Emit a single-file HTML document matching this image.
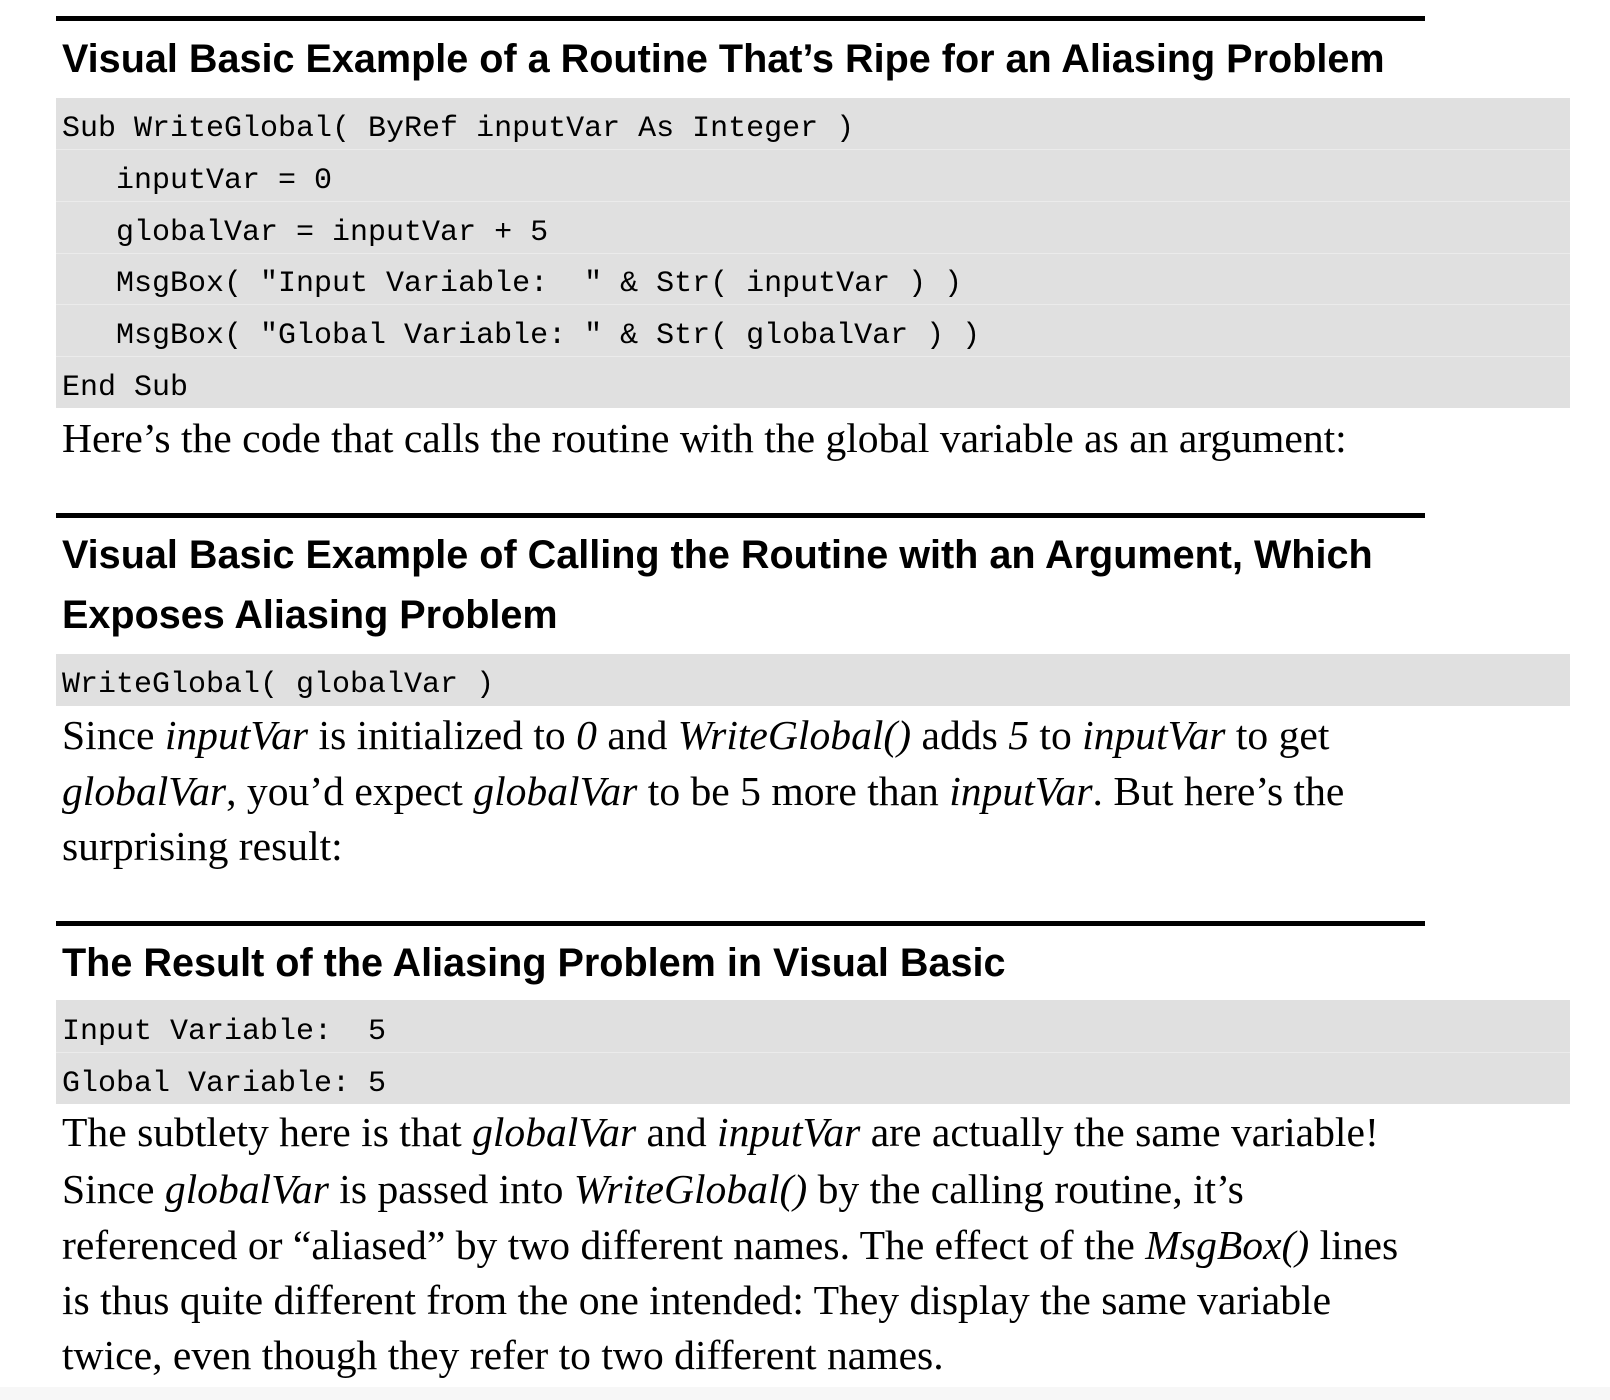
<!DOCTYPE html>
<html><head><meta charset="utf-8"><style>
body{margin:0;width:1610px;height:1400px;background:#fff;position:relative;overflow:hidden}
.r{position:absolute;left:56px;width:1369px;height:5px;background:#000}
.h{position:absolute;left:62px;font:bold 39.6px/60px "Liberation Sans",sans-serif;color:#000;white-space:nowrap}
.g{position:absolute;left:56px;width:1514px;background:#e0e0e0}
.c{position:absolute;left:62px;font:30px/52px "Liberation Mono",monospace;color:#000;white-space:pre}
.sep{position:absolute;left:56px;width:1514px;height:1px;background:#ebebeb}
.p{position:absolute;left:62px;font:41.6px/56px "Liberation Serif",serif;color:#000;white-space:nowrap}
i{font-style:italic}
</style></head><body>
<div class="r" style="top:16px"></div>
<div class="h" style="top:29px">Visual Basic Example of a Routine That’s Ripe for an Aliasing Problem</div>
<div class="g" style="top:98px;height:310px"></div>
<div class="sep" style="top:149px"></div><div class="sep" style="top:201px"></div><div class="sep" style="top:253px"></div><div class="sep" style="top:304px"></div><div class="sep" style="top:356px"></div>
<div class="c" style="top:103px">Sub WriteGlobal( ByRef inputVar As Integer )</div>
<div class="c" style="top:155px">   inputVar = 0</div>
<div class="c" style="top:207px">   globalVar = inputVar + 5</div>
<div class="c" style="top:258px">   MsgBox( "Input Variable:  " &amp; Str( inputVar ) )</div>
<div class="c" style="top:310px">   MsgBox( "Global Variable: " &amp; Str( globalVar ) )</div>
<div class="c" style="top:362px">End Sub</div>
<div class="p" style="top:410px">Here’s the code that calls the routine with the global variable as an argument:</div>

<div class="r" style="top:513px"></div>
<div class="h" style="top:525px">Visual Basic Example of Calling the Routine with an Argument, Which</div>
<div class="h" style="top:585px">Exposes Aliasing Problem</div>
<div class="g" style="top:654px;height:52px"></div>
<div class="c" style="top:659px">WriteGlobal( globalVar )</div>
<div class="p" style="top:707px">Since <i>inputVar</i> is initialized to <i>0</i> and <i>WriteGlobal()</i> adds <i>5</i> to <i>inputVar</i> to get</div>
<div class="p" style="top:763px"><i>globalVar</i>, you’d expect <i>globalVar</i> to be 5 more than <i>inputVar</i>. But here’s the</div>
<div class="p" style="top:818px">surprising result:</div>

<div class="r" style="top:921px"></div>
<div class="h" style="top:933px">The Result of the Aliasing Problem in Visual Basic</div>
<div class="g" style="top:1000px;height:104px"></div>
<div class="sep" style="top:1052px"></div>
<div class="c" style="top:1006px">Input Variable:  5</div>
<div class="c" style="top:1058px">Global Variable: 5</div>
<div class="p" style="top:1104px">The subtlety here is that <i>globalVar</i> and <i>inputVar</i> are actually the same variable!</div>
<div class="p" style="top:1161px">Since <i>globalVar</i> is passed into <i>WriteGlobal()</i> by the calling routine, it’s</div>
<div class="p" style="top:1217px">referenced or “aliased” by two different names. The effect of the <i>MsgBox()</i> lines</div>
<div class="p" style="top:1272px">is thus quite different from the one intended: They display the same variable</div>
<div class="p" style="top:1327px">twice, even though they refer to two different names.</div>
<div style="position:absolute;left:0;top:1387px;width:1610px;height:13px;background:#f7f7f7"></div>
</body></html>
